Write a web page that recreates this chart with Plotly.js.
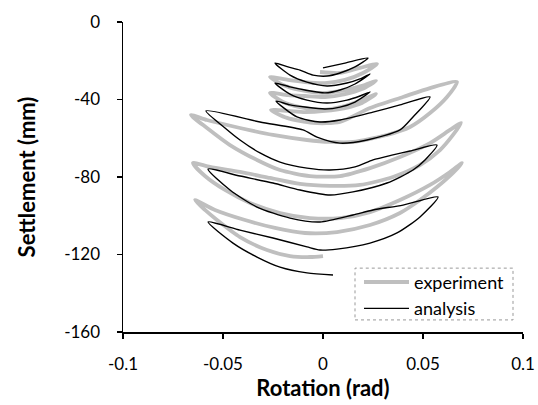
<!DOCTYPE html>
<html>
<head>
<meta charset="utf-8">
<script src="https://cdn.plot.ly/plotly-3.0.1.min.js"></script>
<style>html,body{margin:0;padding:0;background:#fff;}#chart{width:538px;height:405px;}</style>
</head>
<body>
<div id="chart"></div>
<script>
// Experiment (grey) - rotation (rad) and settlement (mm)
var expRotation = [
  -0.0015, 0.0085, 0.0185, 0.027,
  0.02, 0.011, 0.001, -0.009, -0.0175, -0.0265,
  -0.02, -0.0115, -0.0005, 0.011, 0.0195, 0.0265,
  0.0195, 0.011, 0.001, -0.009, -0.0175, -0.0265,
  -0.02, -0.0115, -0.0005, 0.011, 0.0195, 0.0265,
  0.0195, 0.011, 0.001, -0.009, -0.0175, -0.026,
  -0.018, -0.005, 0.0085, 0.0235, 0.04, 0.0535, 0.067,
  0.062, 0.0535, 0.0435, 0.032, 0.015, 0.0035, -0.008, -0.025, -0.0415, -0.058, -0.066,
  -0.058, -0.0465, -0.033, -0.0215, -0.0065, 0.0085, 0.0235, 0.0385, 0.0535, 0.0635, 0.069,
  0.065, 0.0585, 0.0485, 0.035, 0.0185, 0.0035, -0.0115, -0.0265, -0.0415, -0.0565, -0.065,
  -0.059, -0.049, -0.0365, -0.0215, -0.0065, 0.0085, 0.0235, 0.0385, 0.0535, 0.0635, 0.0695,
  0.065, 0.057, 0.0485, 0.0385, 0.0235, 0.007, -0.009, -0.024, -0.039, -0.054, -0.064,
  -0.059, -0.053, -0.0415, -0.028, -0.0165, -0.0065, 0
];
var expSettlement = [
  -25.8, -26.3, -23.7, -21.7,
  -26.3, -29.9, -31.5, -31.0, -29.9, -28.4,
  -32.5, -35.1, -36.6, -35.1, -33.0, -30.4,
  -34.6, -37.2, -38.7, -38.2, -37.7, -36.6,
  -41.3, -43.9, -45.4, -43.4, -40.3, -37.2,
  -41.8, -44.4, -45.9, -46.5, -45.9, -45.4,
  -49.5, -52.1, -51.6, -44.4, -38.7, -34.1, -31.0,
  -38.7, -47.0, -54.2, -58.3, -61.9, -61.9, -60.9, -58.3, -54.7, -50.6, -48.0,
  -54.7, -63.5, -71.2, -76.4, -79.5, -79.5, -75.4, -69.7, -62.5, -55.7, -52.1,
  -58.3, -66.1, -73.8, -80.0, -84.1, -84.6, -83.6, -80.5, -77.4, -74.8, -72.8,
  -79.5, -86.7, -93.4, -98.6, -101.2, -101.2, -98.1, -91.9, -84.1, -77.4, -72.8,
  -77.9, -85.2, -91.9, -98.6, -104.8, -108.4, -108.9, -106.3, -102.2, -97.0, -91.9,
  -97.0, -102.2, -111.0, -117.7, -120.8, -121.3, -120.8
];
// Analysis (black)
var anaRotation = [
  0, 0.011, 0.0225,
  0.016, 0.0085, 0.002, -0.005, -0.0115, -0.0175, -0.024,
  -0.0165, -0.008, 0.002, 0.012, 0.0185, 0.0235,
  0.016, 0.0085, 0.001, -0.009, -0.0165, -0.024,
  -0.0165, -0.008, 0.002, 0.012, 0.0185, 0.0235,
  0.016, 0.0085, 0.001, -0.009, -0.0165, -0.0235,
  -0.013, -0.0015, 0.0085, 0.025, 0.0385, 0.0535,
  0.045, 0.0385, 0.022, 0.0085, -0.003, -0.01, -0.0315, -0.0585,
  -0.049, -0.0415, -0.0315, -0.0215, -0.008, 0.0035, 0.016, 0.025, 0.035, 0.0435, 0.057,
  0.051, 0.045, 0.032, 0.015, 0.0035, -0.0115, -0.025, -0.0415, -0.0575,
  -0.0465, -0.033, -0.0165, -0.0015, 0.015, 0.025, 0.04, 0.0575,
  0.0485, 0.037, 0.0235, 0.007, -0.0015, -0.008, -0.025, -0.0415, -0.0575,
  -0.045, -0.033, -0.0215, -0.008, 0.005
];
var anaSettlement = [
  -23.7, -21.2, -18.6,
  -23.2, -26.3, -27.9, -27.4, -24.8, -23.2, -21.2,
  -27.4, -31.0, -33.0, -31.5, -29.4, -26.8,
  -32.0, -35.1, -36.6, -35.1, -33.5, -31.5,
  -37.2, -40.3, -41.8, -40.3, -38.2, -36.1,
  -41.3, -43.9, -44.9, -43.9, -42.8, -40.8,
  -49.0, -51.6, -50.6, -46.5, -42.8, -38.7,
  -49.0, -55.7, -60.9, -62.5, -59.4, -55.7, -51.6, -45.9,
  -54.7, -60.9, -67.6, -72.3, -75.4, -76.4, -74.8, -71.2, -68.6, -66.6, -63.5,
  -71.2, -76.4, -83.1, -87.7, -89.3, -86.7, -83.1, -79.5, -75.9,
  -86.7, -95.5, -101.2, -103.2, -99.6, -97.0, -94.5, -90.3,
  -100.6, -108.9, -114.1, -117.2, -117.7, -116.1, -111.5, -107.4, -103.2,
  -114.1, -121.3, -126.5, -129.5, -130.6
];
var xTickVals = [-0.1, -0.05, 0, 0.05, 0.1];
var xTickText = ["-0.1", "-0.05", "0", "0.05", "0.1"];
var yTickVals = [-160, -120, -80, -40, 0];
var yTickText = ["-160", "-120", "-80", "-40", "0"];

var FONT = "Lato, 'Open Sans', sans-serif";
var traces = [
  {x: expRotation, y: expSettlement, name: "experiment", mode: "lines",
   line: {color: "#bfbfbf", width: 3.8, shape: "spline", smoothing: 0.7}},
  {x: anaRotation, y: anaSettlement, name: "analysis", mode: "lines",
   line: {color: "#000000", width: 1.4, shape: "spline", smoothing: 0.7}}
];
var layout = {
  width: 538, height: 405,
  margin: {l: 123, r: 15, t: 22, b: 73},
  paper_bgcolor: "#ffffff", plot_bgcolor: "#ffffff",
  font: {family: FONT, size: 17, color: "#000"},
  showlegend: true,
  legend: {x: 0.59, y: 0.22, xanchor: "left", yanchor: "top",
           bgcolor: "rgba(0,0,0,0)", borderwidth: 0, itemwidth: 45,
           font: {family: FONT, size: 18, color: "#000"}, tracegroupgap: 0},
  xaxis: {range: [-0.1, 0.1], tickvals: xTickVals, ticktext: xTickText,
          ticks: "outside", ticklen: 5, tickwidth: 1.5, tickcolor: "#000",
          ticklabelstandoff: 11,
          showline: true, linecolor: "#000", linewidth: 1.5, showgrid: false, zeroline: false,
          tickfont: {family: FONT, size: 17}, fixedrange: true, automargin: false,
          title: {text: "<b>Rotation (rad)</b>", font: {family: FONT, size: 22}, standoff: 5}},
  yaxis: {range: [-160, 0], tickvals: yTickVals, ticktext: yTickText,
          ticks: "outside", ticklen: 5, tickwidth: 1.5, tickcolor: "#000",
          ticklabelstandoff: 13,
          showline: true, linecolor: "#000", linewidth: 1.5, showgrid: false, zeroline: false,
          tickfont: {family: FONT, size: 17}, fixedrange: true, automargin: false,
          title: {text: "<b>Settlement (mm)</b>", font: {family: FONT, size: 22}, standoff: 22}},
  shapes: [{type: "rect", xref: "paper", yref: "paper", x0: 0.58, x1: 0.975, y0: 0.039, y1: 0.206,
            line: {color: "#999", width: 1, dash: "dot"}, fillcolor: "rgba(0,0,0,0)"}]
};
Plotly.newPlot("chart", traces, layout, {staticPlot: true, displayModeBar: false});
</script>
</body>
</html>
